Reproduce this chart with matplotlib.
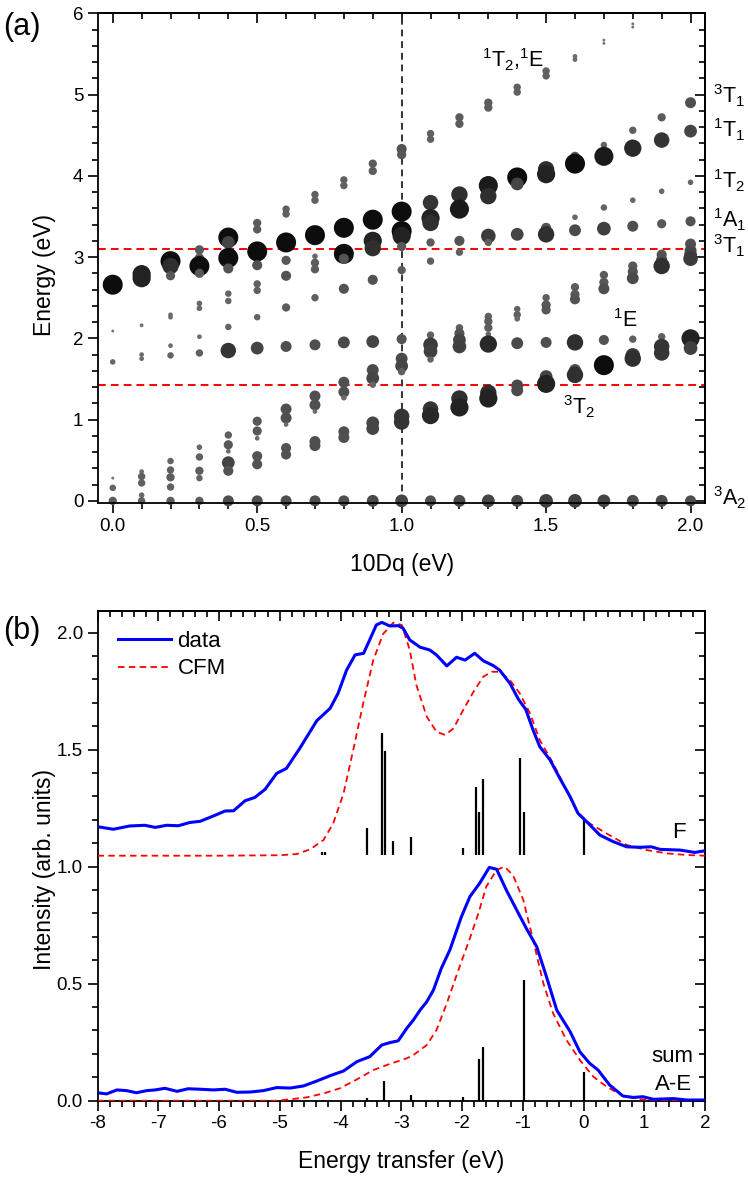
import numpy as np
import matplotlib
matplotlib.use("Agg")
import matplotlib.pyplot as plt
from matplotlib.ticker import MultipleLocator, FormatStrFormatter, FuncFormatter

plt.rcParams['font.family'] = ['Liberation Sans', 'DejaVu Sans']
plt.rcParams['mathtext.default'] = 'regular'

# ---------------- Panel (a) data: multiplet energies vs 10Dq ----------------
tendq = [0.0, 0.1, 0.2, 0.3, 0.4, 0.5, 0.6, 0.7, 0.8, 0.9, 1.0,
         1.1, 1.2, 1.3, 1.4, 1.5, 1.6, 1.7, 1.8, 1.9, 2.0]

level_energy = [
    [2.66, 2.09, 1.71, 0.28, 0.16, 0.0],
    [2.79, 2.74, 2.16, 1.80, 1.75, 0.36, 0.30, 0.22, 0.07, 0.0],
    [2.95, 2.89, 2.77, 2.29, 2.26, 1.91, 1.79, 0.49, 0.38, 0.29, 0.17, 0.0],
    [3.09, 2.99, 2.89, 2.80, 2.43, 2.37, 2.02, 1.82, 0.66, 0.54, 0.37, 0.28, 0.0],
    [3.24, 3.18, 2.99, 2.86, 2.55, 2.46, 2.14, 1.85, 0.81, 0.69, 0.61, 0.47, 0.37, 0.0],
    [3.42, 3.34, 3.07, 2.90, 2.67, 2.59, 2.26, 1.88, 0.98, 0.86, 0.77, 0.55, 0.45, 0.0],
    [3.59, 3.53, 3.18, 2.96, 2.77, 2.38, 1.90, 1.13, 1.02, 0.94, 0.65, 0.57, 0.0],
    [3.77, 3.70, 3.27, 3.01, 2.93, 2.85, 2.50, 1.92, 1.29, 1.18, 1.10, 0.73, 0.68, 0.0],
    [3.95, 3.88, 3.36, 3.04, 2.98, 2.61, 1.95, 1.46, 1.34, 1.27, 0.85, 0.78, 0.0],
    [4.15, 4.06, 3.46, 3.20, 3.11, 2.72, 1.96, 1.61, 1.51, 1.43, 0.96, 0.89, 0.0],
    [4.33, 4.26, 3.56, 3.32, 3.26, 3.13, 2.84, 1.99, 1.75, 1.66, 1.59, 1.04, 0.97, 0.0],
    [4.52, 4.45, 3.67, 3.48, 3.42, 3.18, 2.95, 2.04, 1.92, 1.84, 1.74, 1.13, 1.05, 0.0],
    [4.72, 4.64, 3.77, 3.59, 3.20, 3.06, 2.13, 2.06, 1.98, 1.90, 1.26, 1.15, 0.0],
    [4.90, 4.84, 3.88, 3.75, 3.26, 3.18, 2.27, 2.21, 2.13, 2.05, 1.93, 1.33, 1.26, 0.0],
    [5.09, 5.03, 3.98, 3.90, 3.28, 2.36, 2.29, 2.24, 1.94, 1.42, 1.36, 0.0],
    [5.29, 5.23, 4.08, 4.02, 3.36, 3.28, 2.50, 2.41, 2.35, 1.95, 1.53, 1.44, 0.0],
    [5.47, 5.43, 4.24, 4.15, 3.49, 3.33, 2.63, 2.54, 2.48, 1.95, 1.61, 1.55, 0.0],
    [5.67, 5.63, 4.38, 4.24, 3.61, 3.35, 2.78, 2.69, 2.61, 1.98, 1.67, 0.0],
    [5.87, 5.83, 4.56, 4.34, 3.70, 3.38, 2.89, 2.82, 2.74, 1.99, 1.79, 1.75, 0.0],
    [4.72, 4.44, 3.81, 3.41, 3.03, 2.97, 2.89, 2.02, 1.90, 1.82, 0.0],
    [4.90, 4.55, 3.92, 3.44, 3.16, 3.08, 3.03, 2.98, 2.00, 1.88, 0.0],
]

level_weight = [
    [1.0, 0.05, 0.2, 0.05, 0.25, 0.35],
    [0.9, 0.9, 0.1, 0.15, 0.15, 0.15, 0.3, 0.3, 0.2, 0.3],
    [1.0, 0.8, 0.4, 0.15, 0.15, 0.15, 0.25, 0.25, 0.3, 0.35, 0.3, 0.35],
    [0.4, 0.4, 1.0, 0.4, 0.2, 0.2, 0.15, 0.3, 0.2, 0.3, 0.35, 0.25, 0.35],
    [1.0, 0.6, 1.0, 0.45, 0.25, 0.25, 0.25, 0.75, 0.3, 0.4, 0.15, 0.6, 0.45, 0.5],
    [0.35, 0.35, 1.0, 0.45, 0.3, 0.3, 0.25, 0.6, 0.4, 0.4, 0.15, 0.45, 0.45, 0.5],
    [0.3, 0.3, 1.0, 0.4, 0.45, 0.35, 0.5, 0.5, 0.5, 0.15, 0.45, 0.45, 0.5],
    [0.3, 0.3, 1.0, 0.2, 0.35, 0.35, 0.3, 0.5, 0.5, 0.5, 0.15, 0.5, 0.5, 0.5],
    [0.3, 0.3, 1.0, 1.0, 0.45, 0.45, 0.55, 0.5, 0.5, 0.2, 0.5, 0.5, 0.5],
    [0.35, 0.35, 1.0, 0.9, 0.8, 0.45, 0.6, 0.55, 0.6, 0.25, 0.6, 0.6, 0.55],
    [0.45, 0.4, 1.0, 1.0, 0.9, 0.4, 0.35, 0.45, 0.55, 0.6, 0.3, 0.75, 0.75, 0.6],
    [0.3, 0.3, 0.75, 0.9, 0.8, 0.35, 0.3, 0.3, 0.7, 0.65, 0.25, 0.75, 0.85, 0.5],
    [0.35, 0.35, 0.8, 0.95, 0.45, 0.3, 0.3, 0.45, 0.6, 0.65, 0.8, 0.9, 0.55],
    [0.35, 0.35, 0.95, 0.8, 0.7, 0.3, 0.3, 0.35, 0.35, 0.2, 0.85, 0.8, 0.9, 0.6],
    [0.3, 0.3, 1.0, 0.6, 0.6, 0.25, 0.3, 0.2, 0.55, 0.55, 0.55, 0.55],
    [0.3, 0.3, 0.8, 0.9, 0.45, 0.8, 0.3, 0.4, 0.4, 0.5, 0.6, 0.9, 0.65],
    [0.15, 0.15, 0.4, 1.0, 0.2, 0.55, 0.35, 0.4, 0.45, 0.8, 0.55, 0.8, 0.65],
    [0.05, 0.05, 0.25, 0.95, 0.25, 0.65, 0.35, 0.4, 0.5, 0.45, 1.0, 0.6],
    [0.05, 0.05, 0.3, 0.85, 0.2, 0.5, 0.4, 0.45, 0.55, 0.3, 0.7, 0.8, 0.55],
    [0.35, 0.75, 0.2, 0.4, 0.45, 0.5, 0.8, 0.3, 0.75, 0.75, 0.55],
    [0.5, 0.6, 0.2, 0.45, 0.5, 0.55, 0.6, 0.7, 0.9, 0.65, 0.5],
]

hline_energies = [3.1, 1.43]
vline_tendq = 1.0

# ---------------- Panel (b) data: RIXS spectra ----------------
data_F_x = [-8.0, -7.74, -7.47, -7.22, -7.05, -6.86, -6.67, -6.48, -6.31, -6.09,
            -5.90, -5.76, -5.57, -5.41, -5.24, -5.05, -4.89, -4.67, -4.39, -4.17,
            -4.04, -3.90, -3.76, -3.62, -3.52, -3.41, -3.32, -3.19, -3.05, -2.97,
            -2.86, -2.69, -2.53, -2.42, -2.25, -2.09, -1.95, -1.79, -1.65, -1.49,
            -1.38, -1.21, -1.07, -0.95, -0.83, -0.72, -0.55, -0.39, -0.22, -0.09,
            0.08, 0.27, 0.49, 0.71, 0.93, 1.12, 1.26, 1.59, 1.83, 2.0]
data_F_y = [1.171, 1.160, 1.174, 1.177, 1.168, 1.177, 1.175, 1.189, 1.194, 1.217,
            1.238, 1.239, 1.282, 1.296, 1.331, 1.399, 1.420, 1.506, 1.624, 1.677,
            1.741, 1.840, 1.905, 1.912, 1.969, 2.033, 2.044, 2.029, 2.030, 2.019,
            1.969, 1.938, 1.926, 1.905, 1.858, 1.895, 1.883, 1.912, 1.880, 1.860,
            1.840, 1.783, 1.715, 1.672, 1.584, 1.513, 1.456, 1.378, 1.299, 1.228,
            1.185, 1.135, 1.107, 1.085, 1.083, 1.085, 1.074, 1.071, 1.061, 1.068]

cfm_F_x = [-8.0, -6.0, -5.0, -4.72, -4.50, -4.28, -4.12, -3.95, -3.79, -3.62,
           -3.46, -3.30, -3.13, -2.99, -2.86, -2.75, -2.58, -2.42, -2.28, -2.14,
           -1.98, -1.81, -1.65, -1.51, -1.38, -1.21, -1.05, -0.88, -0.72, -0.50,
           -0.28, -0.11, 0.10, 0.38, 0.71, 1.04, 1.37, 1.70, 2.0]
cfm_F_y = [1.047, 1.047, 1.049, 1.054, 1.074, 1.114, 1.185, 1.313, 1.499, 1.705,
           1.883, 1.994, 2.043, 2.033, 1.926, 1.775, 1.641, 1.577, 1.563, 1.591,
           1.670, 1.748, 1.812, 1.833, 1.833, 1.797, 1.741, 1.655, 1.541, 1.442,
           1.328, 1.235, 1.185, 1.142, 1.093, 1.071, 1.057, 1.050, 1.047]

data_AE_x = [-8.0, -7.85, -7.68, -7.52, -7.36, -7.19, -7.05, -6.89, -6.69, -6.51,
             -6.31, -6.09, -5.90, -5.71, -5.49, -5.27, -5.05, -4.83, -4.61, -4.39,
             -4.17, -3.95, -3.73, -3.52, -3.32, -3.19, -3.05, -2.91, -2.80, -2.69,
             -2.58, -2.47, -2.34, -2.20, -2.01, -1.87, -1.71, -1.55, -1.43, -1.27,
             -1.10, -0.94, -0.77, -0.61, -0.44, -0.22, -0.06, 0.10, 0.24, 0.43,
             0.65, 0.82, 0.98, 1.15, 1.48, 1.70, 2.0]
data_AE_y = [0.034, 0.029, 0.046, 0.043, 0.034, 0.043, 0.046, 0.053, 0.040, 0.051,
             0.049, 0.046, 0.049, 0.036, 0.037, 0.043, 0.056, 0.054, 0.063, 0.084,
             0.107, 0.127, 0.167, 0.188, 0.238, 0.248, 0.256, 0.309, 0.345, 0.387,
             0.423, 0.473, 0.566, 0.644, 0.786, 0.872, 0.929, 0.997, 0.989, 0.900,
             0.815, 0.736, 0.658, 0.530, 0.387, 0.295, 0.209, 0.160, 0.131, 0.067,
             0.020, 0.014, 0.017, 0.006, 0.009, 0.003, 0.003]

cfm_AE_x = [-8.0, -5.05, -4.83, -4.56, -4.28, -4.01, -3.73, -3.46, -3.19, -2.91,
            -2.80, -2.58, -2.42, -2.25, -2.06, -1.87, -1.73, -1.60, -1.43, -1.30,
            -1.16, -0.99, -0.83, -0.66, -0.50, -0.28, -0.06, 0.16, 0.38, 0.65,
            0.93, 1.37, 2.0]
cfm_AE_y = [0.0, 0.0, 0.006, 0.014, 0.031, 0.053, 0.091, 0.131, 0.157, 0.181,
            0.195, 0.238, 0.302, 0.416, 0.558, 0.694, 0.801, 0.915, 0.986, 1.000,
            0.964, 0.857, 0.687, 0.501, 0.373, 0.259, 0.174, 0.103, 0.060, 0.020,
            0.006, 0.0, 0.0]

stick_F_x = [-4.30, -4.25, -3.56, -3.32, -3.26, -3.13, -2.84, -1.99, -1.77, -1.72,
             -1.66, -1.05, -0.98, 0.0]
stick_F_top = [1.062, 1.062, 1.164, 1.573, 1.496, 1.11, 1.125, 1.079, 1.342, 1.235,
               1.375, 1.466, 1.232, 1.20]
stick_F_base = 1.05

stick_AE_x = [-4.28, -3.56, -3.29, -2.84, -1.99, -1.72, -1.66, -0.98, 0.0]
stick_AE_top = [0.005, 0.01, 0.085, 0.025, 0.014, 0.18, 0.23, 0.516, 0.124]

# ---------------- Figure ----------------
W, H = 748, 1178
fig = plt.figure(figsize=(W / 100, H / 100), dpi=100)


def px_axes(l, t, r, b):
    return [l / W, 1 - b / H, (r - l) / W, (b - t) / H]


TICK_FS = 13.5
LAB_FS = 16.5


def style_axes(ax, xmaj, xmin, ymaj, ymin):
    for sp in ax.spines.values():
        sp.set_linewidth(1.3)
    ax.xaxis.set_major_locator(MultipleLocator(xmaj))
    ax.xaxis.set_minor_locator(MultipleLocator(xmin))
    ax.yaxis.set_major_locator(MultipleLocator(ymaj))
    ax.yaxis.set_minor_locator(MultipleLocator(ymin))
    ax.tick_params(which='both', direction='out', top=False, right=False,
                   width=1.2, labelsize=TICK_FS, pad=3.5)
    ax.tick_params(which='major', length=7)
    ax.tick_params(which='minor', length=4.5)
    secx = ax.secondary_xaxis('top')
    secx.xaxis.set_major_locator(MultipleLocator(xmaj))
    secx.xaxis.set_minor_locator(MultipleLocator(xmin))
    secx.tick_params(which='both', direction='in', labeltop=False, width=1.2)
    secx.tick_params(which='major', length=7)
    secx.tick_params(which='minor', length=4.5)
    secx.spines['top'].set_linewidth(1.3)
    secy = ax.secondary_yaxis('right')
    secy.yaxis.set_major_locator(MultipleLocator(ymaj))
    secy.yaxis.set_minor_locator(MultipleLocator(ymin))
    secy.tick_params(which='both', direction='in', labelright=False, width=1.2)
    secy.tick_params(which='major', length=7)
    secy.tick_params(which='minor', length=4.5)
    secy.spines['right'].set_linewidth(1.3)


# ----- Panel (a) -----
ax1 = fig.add_axes(px_axes(98, 13.3, 705, 503.3))
ax1.set_xlim(-0.051, 2.05)
ax1.set_ylim(-0.03, 6.0)

xs, ys, ws = [], [], []
for xv, es, wts in zip(tendq, level_energy, level_weight):
    for e, w in zip(es, wts):
        xs.append(xv)
        ys.append(e)
        ws.append(w)
xs = np.array(xs)
ys = np.array(ys)
ws = np.array(ws)
diam_px = 2.0 + 18.0 * ws
sizes = (diam_px * 0.72) ** 2
grays = 0.05 + 0.42 * (1 - ws) ** 0.7
colors = [(g, g, g) for g in grays]

for e in hline_energies:
    ax1.axhline(e, color='#ff0000', lw=1.4, ls=(0, (4, 2.6)), zorder=1)
ax1.axvline(vline_tendq, color='#333333', lw=1.4, ls=(0, (3.5, 2.5)), zorder=1)
ax1.scatter(xs, ys, s=sizes, c=colors, edgecolors='none', zorder=2, clip_on=False)

style_axes(ax1, 0.5, 0.1, 1, 0.2)
ax1.xaxis.set_major_formatter(FormatStrFormatter('%.1f'))

# level labels
lab_fs = 15.5
right_labels = [(4.89, r'$^{3}$T$_{1}$'), (4.47, r'$^{1}$T$_{1}$'),
                (3.85, r'$^{1}$T$_{2}$'), (3.36, r'$^{1}$A$_{1}$'),
                (3.04, r'$^{3}$T$_{1}$'), (-0.06, r'$^{3}$A$_{2}$')]
for e, t in right_labels:
    ax1.text(2.077, e, t, fontsize=lab_fs, ha='left', va='baseline', clip_on=False)
ax1.text(1.277, 5.34, r'$^{1}$T$_{2}$,$^{1}$E', fontsize=lab_fs, ha='left', va='baseline')
ax1.text(1.732, 2.145, r'$^{1}$E', fontsize=lab_fs, ha='left', va='baseline')
ax1.text(1.559, 1.064, r'$^{3}$T$_{2}$', fontsize=lab_fs, ha='left', va='baseline')

fig.text(45 / W, 1 - 275 / H, 'Energy (eV)', rotation=90, ha='center', va='center',
         fontsize=LAB_FS)
fig.text(402 / W, 1 - 564 / H, '10Dq (eV)', ha='center', va='center', fontsize=LAB_FS)
fig.text(3 / W, 1 - 27.5 / H, '(a)', ha='left', va='center', fontsize=22)

# ----- Panel (b) -----
ax2 = fig.add_axes(px_axes(97.5, 610.7, 705, 1100.7))
ax2.set_xlim(-8, 2)
ax2.set_ylim(0, 2.094)

ax2.vlines(stick_F_x, stick_F_base, stick_F_top, color='k', lw=1.6, zorder=2)
ax2.vlines(stick_AE_x, 0, stick_AE_top, color='k', lw=1.6, zorder=2)
ax2.plot(cfm_F_x, cfm_F_y, color='#ff0000', lw=1.3, ls=(0, (3.6, 2.4)), zorder=3)
ax2.plot(cfm_AE_x, cfm_AE_y, color='#ff0000', lw=1.3, ls=(0, (3.6, 2.4)), zorder=3)
ax2.plot(data_F_x, data_F_y, color='#0000ff', lw=2.2, zorder=4, label='data')
ax2.plot(data_AE_x, data_AE_y, color='#0000ff', lw=2.2, zorder=4)
ax2.plot([], [], color='#ff0000', lw=1.3, ls=(0, (3.6, 2.4)), label='CFM')

style_axes(ax2, 1, 0.2, 0.5, 0.1)
ax2.yaxis.set_major_formatter(FormatStrFormatter('%.1f'))
ax2.xaxis.set_major_formatter(FuncFormatter(lambda v, p: '%d' % round(v)))

ax2.legend(loc='upper left', frameon=False, fontsize=16, handlelength=2.4,
           handletextpad=0.3, borderaxespad=0.6, borderpad=0.3, labelspacing=0.3)

ax2.text(1.454, 1.123, 'F', fontsize=16, ha='left', va='baseline')
ax2.text(1.815, 0.167, 'sum', fontsize=16, ha='right', va='baseline')
ax2.text(1.794, 0.046, 'A-E', fontsize=16, ha='right', va='baseline')

fig.text(45 / W, 1 - 870 / H, 'Intensity (arb. units)', rotation=90, ha='center',
         va='center', fontsize=LAB_FS)
fig.text(401 / W, 1 - 1161.7 / H, 'Energy transfer (eV)', ha='center', va='center',
         fontsize=LAB_FS)
fig.text(3 / W, 1 - 631.5 / H, '(b)', ha='left', va='center', fontsize=22)

fig.savefig('out.png', dpi=100, facecolor='white')
